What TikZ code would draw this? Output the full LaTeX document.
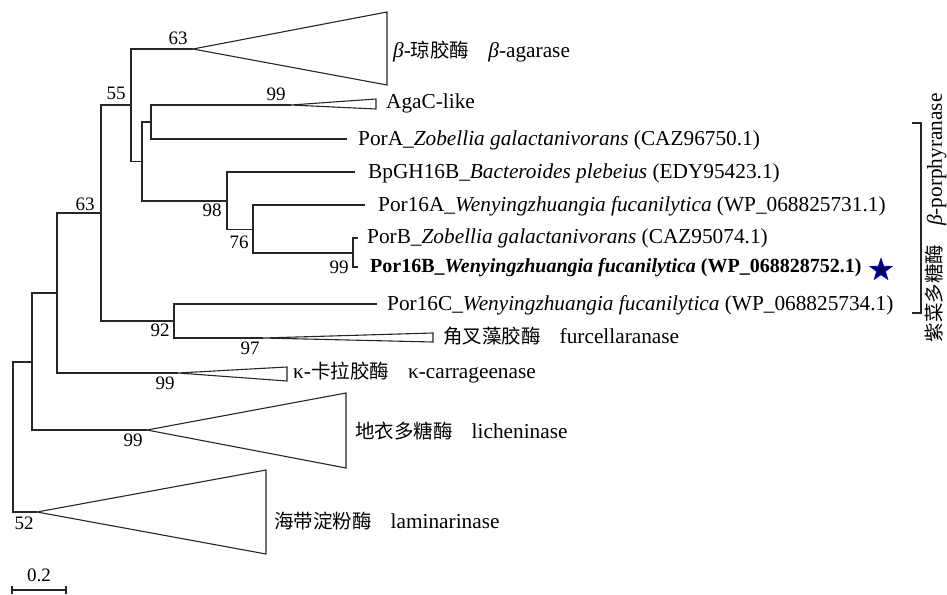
\documentclass[tikz,border=0pt]{standalone}
\usepackage{fontspec}
\setmainfont{Liberation Serif}
\newfontfamily\cjkfam{Noto Sans CJK SC}
\usetikzlibrary{shapes.geometric}
\newcommand\cjktext[1]{{\cjkfam\fontsize{19.5}{22}\selectfont #1}}
\tikzset{
  br/.style={line width=1.1pt, draw=black!85},
  leaf/.style={anchor=base west, inner sep=0pt, font=\fontsize{21.3}{24}\selectfont},
  boldleaf/.style={anchor=base west, inner sep=0pt, font=\fontsize{20}{24}\selectfont\bfseries},
  boot/.style={inner sep=0pt, font=\fontsize{19}{22}\selectfont},
}
\begin{document}
\begin{tikzpicture}[x=1pt,y=-1pt]
\useasboundingbox (0,0) rectangle (947,594);
% internal nodes
\coordinate (R) at (13,437);
\coordinate (A) at (32,362);
\coordinate (B) at (57,293);
\coordinate (C) at (101,213);
\coordinate (D) at (131,105);
\coordinate (E) at (142,161.5);
\coordinate (F) at (151,122);
\coordinate (G) at (227,201);
\coordinate (H) at (253,229.5);
\coordinate (I) at (353,253);
\coordinate (K) at (174,321);
% leaves
\coordinate (aga) at (193,49);
\coordinate (agac) at (291,105);
\coordinate (porA) at (347,139);
\coordinate (bp) at (355,172);
\coordinate (p16A) at (365,205);
\coordinate (porB) at (358,238);
\coordinate (p16B) at (358,267);
\coordinate (p16C) at (377,304);
\coordinate (fur) at (263,338);
\coordinate (kap) at (178,373);
\coordinate (lic) at (147,430);
\coordinate (lam) at (37,512);
% branches
\draw[br] (R) |- (A);
\draw[br] (R) |- (lam);
\draw[br] (A) |- (B);
\draw[br] (A) |- (lic);
\draw[br] (B) |- (C);
\draw[br] (B) |- (kap);
\draw[br] (C) |- (D);
\draw[br] (C) |- (K);
\draw[br] (D) |- (aga);
\draw[br] (D) |- (E);
\draw[br] (E) |- (F);
\draw[br] (E) |- (G);
\draw[br] (F) |- (agac);
\draw[br] (F) |- (porA);
\draw[br] (G) |- (bp);
\draw[br] (G) |- (H);
\draw[br] (H) |- (p16A);
\draw[br] (H) |- (I);
\draw[br] (I) |- (porB);
\draw[br] (I) |- (p16B);
\draw[br] (K) |- (p16C);
\draw[br] (K) |- (fur);
% collapsed clades
\draw[br] (aga) -- (387,12) -- (387,85) -- cycle;
\draw[br] (agac) -- (376,99) -- (376,109) -- cycle;
\draw[br] (fur) -- (433,333) -- (433,342) -- cycle;
\draw[br] (kap) -- (287,367) -- (287,381) -- cycle;
\draw[br] (lic) -- (346,393) -- (346,468) -- cycle;
\draw[br] (lam) -- (266,470) -- (266,554) -- cycle;
% leaf labels
\node[leaf] (tAga) at (393,58) {\textit{β}-\cjktext{琼胶酶}\hspace{19pt}\textit{β}-agarase};
\node[leaf] (tAgac) at (386,108) {AgaC-like};
\node[leaf] (tPorA) at (358,145) {PorA\_\textit{Zobellia galactanivorans} (CAZ96750.1)};
\node[leaf] (tBp) at (368,178) {BpGH16B\_\textit{Bacteroides plebeius} (EDY95423.1)};
\node[leaf] (tP16A) at (378,211) {Por16A\_\textit{Wenyingzhuangia fucanilytica} (WP\_068825731.1)};
\node[leaf] (tPorB) at (367,243) {PorB\_\textit{Zobellia galactanivorans} (CAZ95074.1)};
\node[boldleaf] (tP16B) at (370,272) {Por16B\_\textit{Wenyingzhuangia fucanilytica} (WP\_068828752.1)};
\node[leaf] (tP16C) at (387,310) {Por16C\_\textit{Wenyingzhuangia fucanilytica} (WP\_068825734.1)};
\node[leaf] (tFur) at (443,343) {\cjktext{角叉藻胶酶}\hspace{19pt}furcellaranase};
\node[leaf] (tKap) at (293,378) {κ-\cjktext{卡拉胶酶}\hspace{19pt}κ-carrageenase};
\node[leaf] (tLic) at (355,438) {\cjktext{地衣多糖酶}\hspace{19pt}licheninase};
\node[leaf] (tLam) at (274,528) {\cjktext{海带淀粉酶}\hspace{19pt}laminarinase};
% star
\node[star, star points=5, star point ratio=2.5, fill=blue!40!black, draw=blue!80!black, line width=0.8pt, minimum size=23pt, inner sep=0pt] (star) at (881,270) {};
% bootstrap values
\node[boot] (b1) at (178,38) {63};
\node[boot] (b2) at (116,93) {55};
\node[boot] (b3) at (276,94) {99};
\node[boot] (b4) at (212,210) {98};
\node[boot] (b5) at (239,242) {76};
\node[boot] (b6) at (339,267) {99};
\node[boot] (b7) at (85,204) {63};
\node[boot] (b8) at (160,330) {92};
\node[boot] (b9) at (250,348) {97};
\node[boot] (b10) at (165,383) {99};
\node[boot] (b11) at (133,440) {99};
\node[boot] (b12) at (24,523) {52};
% bracket and group label
\coordinate (bt) at (912,123);
\coordinate (bb) at (912,313);
\draw[br] (bt) -- (921,123) -- (921,313) -- (bb);
\node[inner sep=0pt, rotate=90, font=\fontsize{21.3}{24}\selectfont] (grp) at (936,218) {\cjktext{紫菜多糖酶}\hspace{19pt}\textit{β}-porphyranase};
% scale bar
\coordinate (s1) at (12,590);
\coordinate (s2) at (66,590);
\draw[br] (s1) -- (s2);
\draw[br] (12,586) -- (12,594);
\draw[br] (66,586) -- (66,594);
\node[boot] (sc) at (39,575) {0.2};
\end{tikzpicture}
\end{document}
